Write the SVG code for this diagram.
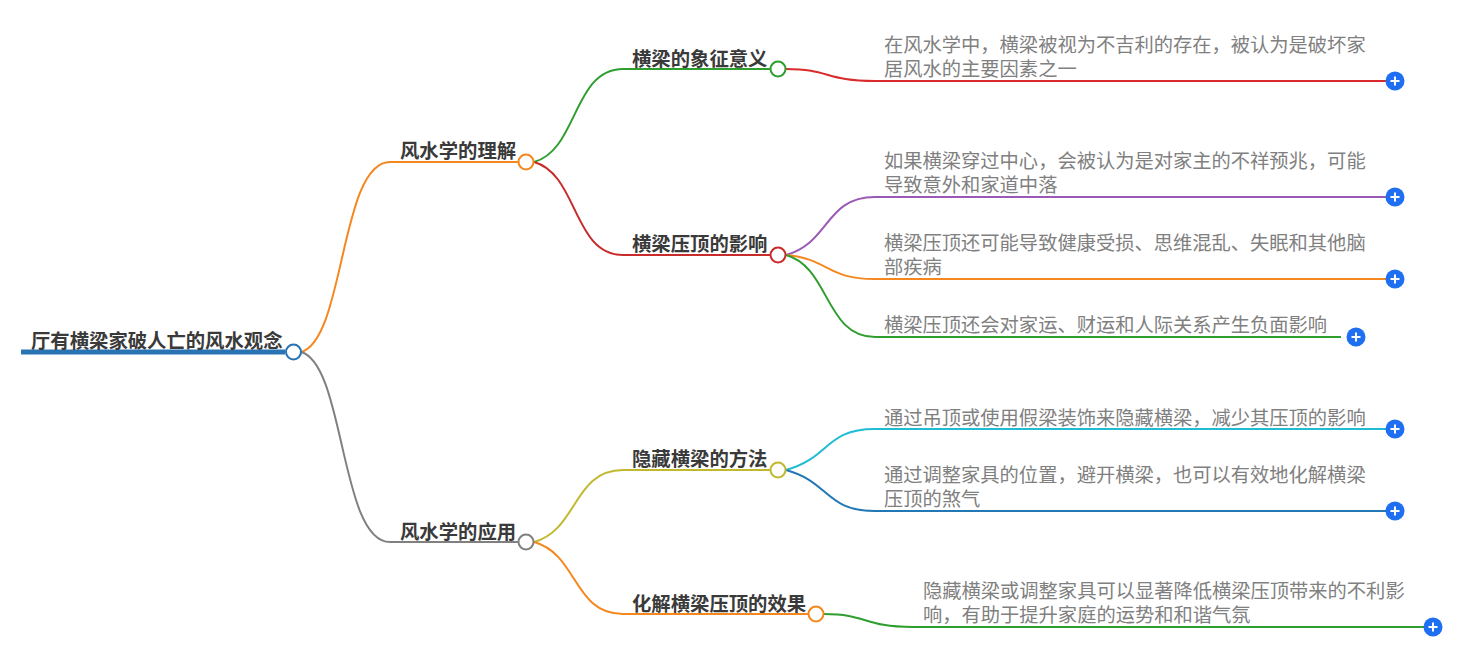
<svg xmlns="http://www.w3.org/2000/svg" width="1478" height="648" viewBox="0 0 1478 648">
<defs>
<g id="plus"><circle r="9.5" fill="#1f6ff2"/><path d="M-4.500 0H4.500M0-4.500V4.500" stroke="#fff" stroke-width="2" fill="none"/></g>
</defs>
<style>
text{font-family:"Liberation Sans","Noto Sans CJK SC",sans-serif}
.b{font-size:19.350px;font-weight:700;fill:#3a3a3a}
.t{font-size:19.280px;fill:#808080}
.c{fill:none;stroke-width:2}
.k{fill:#fff;stroke-width:2}
</style>
<rect width="1478" height="648" fill="#fff"/>
<g id="connectors">
<path d="M21 352H285" fill="none" stroke="#2873b3" stroke-width="5"/>
<path class="c" stroke="#f5871f" d="M301 352C345 340 340 162 390 162H518"/>
<path class="c" stroke="#808080" d="M301 352C345 364 340 542 390 542H518"/>
<path class="c" stroke="#2f9e2f" d="M534 162C578 150 573 69 623 69H770"/>
<path class="c" stroke="#c92a2a" d="M534 162C578 174 573 255 623 255H770"/>
<path class="c" stroke="#c0b92e" d="M534 542C578 530 573 470 623 470H770"/>
<path class="c" stroke="#f5871f" d="M534 542C578 554 573 614 623 614H808"/>
<path class="c" stroke="#d92b2b" d="M786 69C830 69 825 81 875 81H1386"/>
<path class="c" stroke="#9b59b6" d="M786 255C830 243 825 197 875 197H1386"/>
<path class="c" stroke="#f5871f" d="M786 255C830 259 825 279 875 279H1386"/>
<path class="c" stroke="#2f9e2f" d="M786 255C830 267 825 337 875 337H1341"/>
<path class="c" stroke="#1fbcd2" d="M786 470C830 458 825 429 875 429H1386"/>
<path class="c" stroke="#2178b4" d="M786 470C830 482 825 511 875 511H1386"/>
<path class="c" stroke="#2f9e2f" d="M824 614C868 614 863 627 913 627H1424"/>
</g>
<g id="root"><text class="b" x="31" y="348">厅有横梁家破人亡的风水观念</text><circle class="k" cx="293.500" cy="352" r="7.500" stroke="#2873b3"/></g>
<g id="n1"><text class="b" x="400" y="158">风水学的理解</text><circle class="k" cx="526" cy="162" r="7.500" stroke="#f5871f"/></g>
<g id="n2"><text class="b" x="400" y="539">风水学的应用</text><circle class="k" cx="526" cy="542" r="7.500" stroke="#808080"/></g>
<g id="n11"><text class="b" x="632" y="66">横梁的象征意义</text><circle class="k" cx="778" cy="69" r="7.500" stroke="#2f9e2f"/></g>
<g id="n12"><text class="b" x="632" y="251">横梁压顶的影响</text><circle class="k" cx="778" cy="255" r="7.500" stroke="#c92a2a"/></g>
<g id="n21"><text class="b" x="632" y="466">隐藏横梁的方法</text><circle class="k" cx="778" cy="470" r="7.500" stroke="#c0b92e"/></g>
<g id="n22"><text class="b" x="632" y="611">化解横梁压顶的效果</text><circle class="k" cx="816" cy="614" r="7.500" stroke="#f5871f"/></g>
<g id="l1"><text class="t" x="884" y="52">在风水学中，横梁被视为不吉利的存在，被认为是破坏家</text><text class="t" x="884" y="76">居风水的主要因素之一</text><use href="#plus" x="1395" y="81"/></g>
<g id="l2"><text class="t" x="884" y="168">如果横梁穿过中心，会被认为是对家主的不祥预兆，可能</text><text class="t" x="884" y="192">导致意外和家道中落</text><use href="#plus" x="1395" y="197"/></g>
<g id="l3"><text class="t" x="884" y="250">横梁压顶还可能导致健康受损、思维混乱、失眠和其他脑</text><text class="t" x="884" y="274">部疾病</text><use href="#plus" x="1395" y="279"/></g>
<g id="l4"><text class="t" x="884" y="332">横梁压顶还会对家运、财运和人际关系产生负面影响</text><use href="#plus" x="1356" y="337"/></g>
<g id="l5"><text class="t" x="884" y="425">通过吊顶或使用假梁装饰来隐藏横梁，减少其压顶的影响</text><use href="#plus" x="1395" y="429"/></g>
<g id="l6"><text class="t" x="884" y="482">通过调整家具的位置，避开横梁，也可以有效地化解横梁</text><text class="t" x="884" y="506">压顶的煞气</text><use href="#plus" x="1395" y="511"/></g>
<g id="l7"><text class="t" x="923" y="598">隐藏横梁或调整家具可以显著降低横梁压顶带来的不利影</text><text class="t" x="923" y="622">响，有助于提升家庭的运势和和谐气氛</text><use href="#plus" x="1433" y="627"/></g>
</svg>
